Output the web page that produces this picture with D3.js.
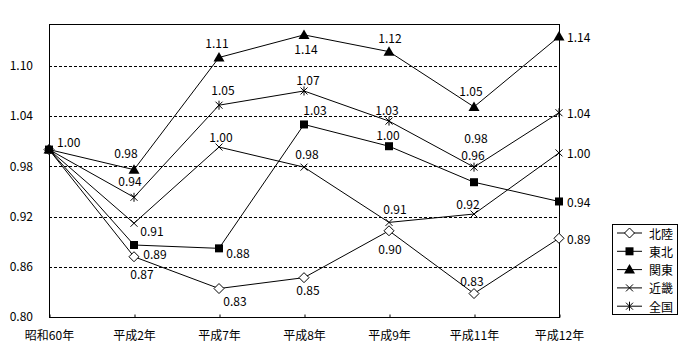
<!DOCTYPE html>
<html><head><meta charset="utf-8">
<script src="https://cdn.jsdelivr.net/npm/d3@7"></script>
<style>
html,body{margin:0;padding:0;background:#fff;}
text{font-family:"Noto Sans CJK JP","DejaVu Sans",sans-serif;font-size:12px;fill:#000;}
</style></head>
<body><svg id="c" width="700" height="360"></svg>
<script>
const categories = ["昭和60年","平成2年","平成7年","平成8年","平成9年","平成11年","平成12年"];
const seriesNames = ["北陸","東北","関東","近畿","全国"];
const hokuriku = [1.00,0.872,0.834,0.847,0.903,0.828,0.894];
const tohoku   = [1.00,0.886,0.882,1.030,1.004,0.961,0.938];
const kanto    = [1.00,0.976,1.110,1.137,1.117,1.051,1.135];
const kinki    = [1.00,0.912,1.003,0.979,0.913,0.923,0.996];
const zenkoku  = [1.00,0.943,1.053,1.070,1.034,0.979,1.044];
const yTicks = [0.80,0.86,0.92,0.98,1.04,1.10];

// label offsets (dx, dy) relative to marker; null = no label
const labelOffsets = [
  [null,[8,17],[16,12],[4,12],[1,18],[-2,-13],[20,0]],
  [[20,-8],[21,8],[19,4],[11,-15],[-1,-12],[-1,-28],[20,0]],
  [null,[-8,-17],[-2,-15],[2,14],[1,-14],[-3,-16],[20,0]],
  [null,[18,7],[2,-11],[3,-14],[6,-14],[-6,-11],[20,0]],
  [null,[-4,-17],[4,-16],[4,-11],[-2,-12],[2,-30],[20,0]]
];

const seriesValues = [hokuriku, tohoku, kanto, kinki, zenkoku];
const markerTypes = ["diamond","square","triangle","x","asterisk"];

const svg = d3.select("#c");
const L = 49, R = 559, T = 24, B = 317;
const x = d3.scalePoint().domain(categories).range([L, R]).padding(0);
const y = d3.scaleLinear().domain([0.80, 1.15]).range([B, T]);

// gridlines
svg.append("g").selectAll("line").data(yTicks.slice(1)).join("line")
  .attr("x1", L).attr("x2", R)
  .attr("y1", d => Math.round(y(d)) + 0.5).attr("y2", d => Math.round(y(d)) + 0.5)
  .attr("stroke", "#000").attr("stroke-width", 1).attr("stroke-dasharray", "3,2");

// y axis labels
const yAxis = svg.append("g").attr("transform", `translate(${L},0)`)
  .call(d3.axisLeft(y).tickValues(yTicks).tickSize(0).tickPadding(16).tickFormat(d3.format(".2f")));
yAxis.select(".domain").remove();
yAxis.selectAll("text").style("font-family", '"Noto Sans CJK JP",sans-serif').style("font-size","12px");

// x axis
const xAxis = svg.append("g").attr("transform", `translate(0,${B})`)
  .call(d3.axisBottom(x).tickSizeInner(-3).tickSizeOuter(0).tickPadding(14));
xAxis.select(".domain").remove();
xAxis.selectAll("line").attr("stroke", "#000").attr("transform","translate(0.5,0.5)");
xAxis.selectAll("text").style("font-family", '"Noto Sans CJK JP",sans-serif').style("font-size","12px");

// plot border
svg.append("rect").attr("x", L + 0.5).attr("y", T + 0.5).attr("width", R - L).attr("height", B - T)
  .attr("fill", "none").attr("stroke", "#000").attr("stroke-width", 1);

// marker drawer
function drawMarker(g, type, cx, cy) {
  if (type === "diamond") {
    g.append("path").attr("d", `M${cx},${cy-5}L${cx+5},${cy}L${cx},${cy+5}L${cx-5},${cy}Z`)
      .attr("fill", "#fff").attr("stroke", "#000").attr("stroke-width", 1);
  } else if (type === "square") {
    g.append("rect").attr("x", cx - 4).attr("y", cy - 4).attr("width", 8).attr("height", 8).attr("fill", "#000");
  } else if (type === "triangle") {
    g.append("path").attr("d", `M${cx},${cy-5.5}L${cx+5.5},${cy+4}L${cx-5.5},${cy+4}Z`).attr("fill", "#000");
  } else if (type === "x") {
    g.append("path").attr("d", `M${cx-3.5},${cy-3.5}L${cx+3.5},${cy+3.5}M${cx+3.5},${cy-3.5}L${cx-3.5},${cy+3.5}`)
      .attr("stroke", "#000").attr("stroke-width", 1).attr("fill", "none");
  } else if (type === "asterisk") {
    g.append("path").attr("d", `M${cx-3.5},${cy-3.5}L${cx+3.5},${cy+3.5}M${cx+3.5},${cy-3.5}L${cx-3.5},${cy+3.5}M${cx},${cy-4.5}L${cx},${cy+4.5}`)
      .attr("stroke", "#000").attr("stroke-width", 1).attr("fill", "none");
  }
}

const line = d3.line().x((d, i) => x(categories[i])).y(d => y(d));
const linesG = svg.append("g");
seriesValues.forEach(vals => {
  linesG.append("path").datum(vals).attr("d", line).attr("fill", "none").attr("stroke", "#000").attr("stroke-width", 1);
});

const markG = svg.append("g");
const drawOrder = [3, 4, 0, 2, 1];
drawOrder.forEach(si => {
  seriesValues[si].forEach((v, i) => drawMarker(markG, markerTypes[si], x(categories[i]), y(v)));
});

// data labels
const fmt = d3.format(".2f");
const labG = svg.append("g");
seriesValues.forEach((vals, si) => {
  vals.forEach((v, i) => {
    const off = labelOffsets[si][i];
    if (!off) return;
    const last = i === categories.length - 1 || (si === 1 && i === 0);
    labG.append("text")
      .attr("x", x(categories[i]) + off[0] - (i === categories.length - 1 ? 12 : (si === 1 && i === 0 ? 12 : 0)))
      .attr("y", y(v) + off[1])
      .attr("text-anchor", last ? "start" : "middle")
      .attr("dominant-baseline", "central")
      .text(fmt(v));
  });
});

// legend
const lg = svg.append("g");
lg.append("rect").attr("x", 612.5).attr("y", 224.5).attr("width", 65).attr("height", 90)
  .attr("fill", "#fff").attr("stroke", "#000").attr("stroke-width", 1);
seriesNames.forEach((name, i) => {
  const cy = 233 + i * 18.3;
  lg.append("line").attr("x1", 617).attr("x2", 642).attr("y1", cy).attr("y2", cy).attr("stroke", "#000");
  drawMarker(lg, markerTypes[i], 629.5, cy);
  lg.append("text").attr("x", 649).attr("y", cy).attr("dominant-baseline", "central").text(name);
});
</script></body></html>
